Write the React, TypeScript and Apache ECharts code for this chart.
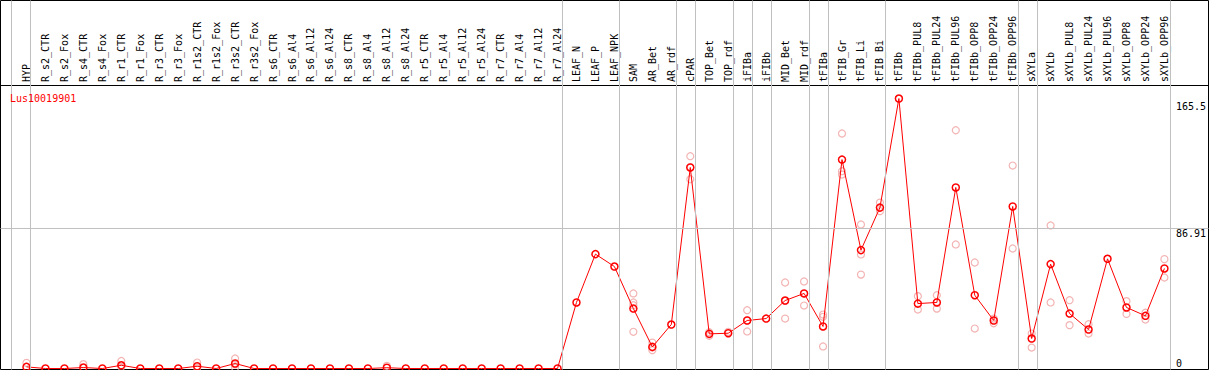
import React, { useEffect, useRef } from "react";
import * as echarts from "echarts";

const geneId = "Lus10019901";

const categories = [
  "HYP", "R_s2_CTR", "R_s2_Fox", "R_s4_CTR", "R_s4_Fox", "R_r1_CTR", "R_r1_Fox", "R_r3_CTR", "R_r3_Fox",
  "R_r1s2_CTR", "R_r1s2_Fox", "R_r3s2_CTR", "R_r3s2_Fox", "R_s6_CTR", "R_s6_Al4", "R_s6_Al12", "R_s6_Al24",
  "R_s8_CTR", "R_s8_Al4", "R_s8_Al12", "R_s8_Al24", "R_r5_CTR", "R_r5_Al4", "R_r5_Al12", "R_r5_Al24",
  "R_r7_CTR", "R_r7_Al4", "R_r7_Al12", "R_r7_Al24", "LEAF_N", "LEAF_P", "LEAF_NPK", "SAM", "AR_Bet", "AR_rdf",
  "cPAR", "TOP_Bet", "TOP_rdf", "iFIBa", "iFIBb", "MID_Bet", "MID_rdf", "tFIBa", "tFIB_Gr", "tFIB_Li", "tFIB_Bi",
  "tFIBb", "tFIBb_PUL8", "tFIBb_PUL24", "tFIBb_PUL96", "tFIBb_OPP8", "tFIBb_OPP24", "tFIBb_OPP96",
  "sXYLa", "sXYLb", "sXYLb_PUL8", "sXYLb_PUL24", "sXYLb_PUL96", "sXYLb_OPP8", "sXYLb_OPP24", "sXYLb_OPP96",
];

const means = [
  1.0, 0, 0, 0.6, 0, 2.0, 0, 0, 0,
  1.4, 0, 3.1, 0, 0, 0, 0, 0,
  0, 0, 0.5, 0, 0, 0, 0, 0,
  0, 0, 0, 0, 41.0, 71.0, 63.3, 37.2, 13.4, 27.3,
  124.8, 21.5, 21.9, 29.8, 31.0, 42.2, 46.6, 26.1, 129.7, 73.5, 99.9,
  167.6, 40.3, 41.0, 112.4, 45.5, 29.8, 100.6,
  18.6, 64.8, 34.1, 24.2, 68.1, 37.9, 32.7, 62.1,
];

const replicates: number[][] = [
  [3.5], [], [], [2.7], [], [4.7, 1.0], [], [], [],
  [3.7, 0.5], [], [6.2, 2.5, 0.5], [], [], [], [], [],
  [], [], [1.6], [], [], [], [], [],
  [], [], [], [], [], [], [], [46.6, 41.0, 39.3, 22.8], [16.1, 13.0, 11.4], [],
  [131.8, 125.0, 117.5], [22.5, 20.3], [22.8], [36.2, 30.0, 23.0], [], [53.4, 42.0, 31.0], [54.0, 46.5, 39.1],
  [33.5, 32.1, 13.7], [145.9, 122.5, 120.4], [89.4, 70.8, 58.3], [103.0, 97.7],
  [], [44.9, 36.6], [45.5, 37.2], [147.9, 77.0], [65.8, 24.8], [31.0, 28.1], [126.0, 74.5],
  [21.7, 13.0], [88.8, 41.0], [42.4, 26.9], [27.5, 21.7], [], [41.8, 33.9], [34.6, 30.4], [67.9, 56.5],
];

// group separators: drawn just after these category indices
const separatorsAfter = [-1, 0, 28, 31, 34, 35, 37, 38, 39, 41, 42, 45, 52, 53, 60];
const yLabelsTop = [86.91, 165.5];
const yLabelsBottom = [0];
const hGridValues = [86.91];
const yMax = 176;

const MONO = "DejaVu Sans Mono";

export default function App() {
  const ref = useRef<HTMLDivElement>(null);
  useEffect(() => {
    if (!ref.current) return;
    const chart = echarts.init(ref.current, undefined, { renderer: "svg" });
    const plotTop = 85;
    const plotH = 283.5;
    const replicatePoints: number[][] = [];
    replicates.forEach((arr, i) => arr.forEach((v) => replicatePoints.push([i, v])));

    chart.setOption({
      animation: false,
      backgroundColor: "#fff",
      title: {
        text: geneId,
        left: 5,
        top: 88,
        textStyle: { color: "#ff0000", fontSize: 10, fontFamily: MONO, fontWeight: "normal" },
      },
      grid: [
        // frame + separators
        { left: 0.5, top: 0.5, width: 1208, height: 369, show: true, borderColor: "#000", borderWidth: 1, backgroundColor: "transparent" },
        // full-width plot band (horizontal gridline, top rule)
        { left: 0.5, top: plotTop, width: 1208, height: plotH },
        // category band
        { left: 17, top: plotTop, width: 1159, height: plotH },
      ],
      xAxis: [
        { gridIndex: 0, type: "value", min: -26 / 19, max: 1182 / 19, show: false },
        {
          gridIndex: 1, type: "value", min: 0, max: 1, position: "top",
          axisLine: { show: true, onZero: false, lineStyle: { color: "#000", width: 1 } },
          axisTick: { show: false }, axisLabel: { show: false }, splitLine: { show: false },
        },
        {
          gridIndex: 2, type: "category", data: categories, position: "top", boundaryGap: true,
          axisLine: { show: false }, axisTick: { show: false }, splitLine: { show: false },
          axisLabel: { interval: 0, rotate: 90, margin: 3, color: "#000", fontSize: 10, fontFamily: MONO },
        },
      ],
      yAxis: [
        { gridIndex: 0, type: "value", min: 0, max: 1, show: false },
        { gridIndex: 1, type: "value", min: 0, max: yMax, show: false },
        {
          gridIndex: 2, type: "value", min: 0, max: yMax, position: "right",
          axisLine: { show: false }, axisTick: { show: false }, splitLine: { show: false },
          axisLabel: {
            customValues: yLabelsTop, verticalAlign: "top", align: "left", margin: 2,
            color: "#000", fontSize: 10, fontFamily: MONO, formatter: (v: number) => String(v),
          },
        },
        {
          gridIndex: 2, type: "value", min: 0, max: yMax, position: "right",
          axisLine: { show: false }, axisTick: { show: false }, splitLine: { show: false },
          axisLabel: {
            customValues: yLabelsBottom, verticalAlign: "bottom", align: "left", margin: 2,
            color: "#000", fontSize: 10, fontFamily: MONO, formatter: (v: number) => String(v),
          },
        },
      ],
      series: [
        {
          type: "line", xAxisIndex: 0, yAxisIndex: 0, data: [], showSymbol: false, silent: true,
          markLine: {
            silent: true, symbol: ["none", "none"], label: { show: false },
            lineStyle: { color: "#c0c0c0", width: 1, type: "solid" },
            data: separatorsAfter.map((i) => ({ xAxis: i + 4 / 19 })),
          },
        },
        {
          type: "line", xAxisIndex: 1, yAxisIndex: 1, data: [], showSymbol: false, silent: true,
          markLine: {
            silent: true, symbol: ["none", "none"], label: { show: false },
            lineStyle: { color: "#c0c0c0", width: 1, type: "solid" },
            data: hGridValues.map((v) => ({ yAxis: v })),
          },
        },
        {
          type: "scatter", xAxisIndex: 2, yAxisIndex: 2, data: replicatePoints, z: 3,
          symbol: "circle", symbolSize: 7, clip: false,
          itemStyle: { color: "rgba(0,0,0,0)", borderColor: "#f0a0a0", borderWidth: 1.2 },
        },
        {
          type: "line", xAxisIndex: 2, yAxisIndex: 2, data: means, z: 4,
          symbol: "circle", symbolSize: 7, showAllSymbol: true, clip: false,
          lineStyle: { color: "#ff0000", width: 1 },
          itemStyle: { color: "rgba(0,0,0,0)", borderColor: "#ff0000", borderWidth: 1.5 },
        },
      ],
    });
    return () => chart.dispose();
  }, []);
  return (
    <div
      ref={ref}
      style={{ position: "fixed", left: 0, top: 0, width: 1209, height: 370, background: "#fff" }}
    />
  );
}
